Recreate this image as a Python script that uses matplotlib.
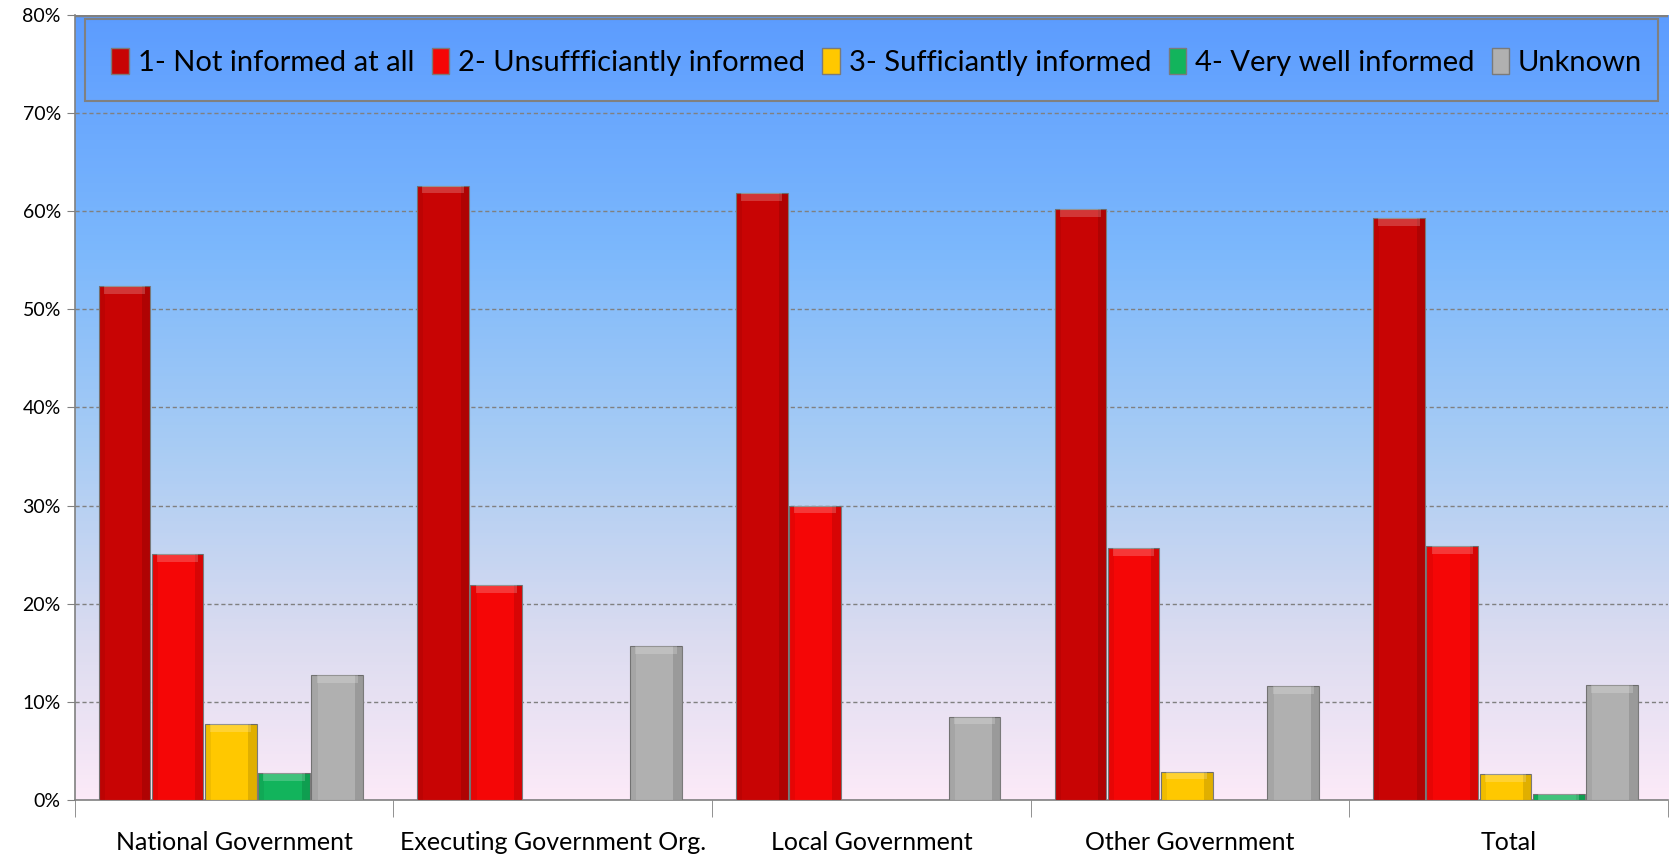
import numpy as np
import matplotlib.pyplot as plt
from matplotlib.colors import LinearSegmentedColormap
from matplotlib.patches import Patch, Rectangle

plt.rcParams['font.family'] = ['Lato', 'DejaVu Sans']

# data (percent)
categories = ['National Government', 'Executing Government Org.', 'Local Government',
              'Other Government', 'Total']
series_names = ['1- Not informed at all', '2- Unsuffficiantly informed',
                '3- Sufficiantly informed', '4- Very well informed', 'Unknown']
not_informed = [52.4, 62.6, 61.8, 60.2, 59.3]
unsufficient = [25.1, 21.9, 30.0, 25.7, 25.9]
sufficient = [7.7, 0.0, 0.0, 2.9, 2.6]
very_well = [2.7, 0.0, 0.0, 0.0, 0.6]
unknown = [12.7, 15.7, 8.5, 11.6, 11.7]
yticks = [0, 10, 20, 30, 40, 50, 60, 70, 80]

series = [not_informed, unsufficient, sufficient, very_well, unknown]
colors = ['#C80404', '#F50606', '#FFC800', '#12B45C', '#B0B0B0']

fig = plt.figure(figsize=(16.71, 8.59), dpi=100)
ax = fig.add_axes([0.0447, 0.0687, 0.9535, 0.914])

n = len(categories)
ax.set_xlim(-0.5, n - 0.5)
ax.set_ylim(0, 80)

# gradient background
bg = LinearSegmentedColormap.from_list('bg', [
    (0.0, '#FCEAF8'), (0.2, '#DCDCF0'), (0.45, '#A8CCF4'),
    (0.7, '#7CB8FC'), (1.0, '#5C9CFF')])
grad = np.linspace(0, 1, 256).reshape(-1, 1)
ax.imshow(grad, cmap=bg, aspect='auto', origin='lower',
          extent=(-0.5, n - 0.5, 0, 80), zorder=0)

# grid
for y in yticks[1:]:
    ax.axhline(y, color='#808080', linestyle=(0, (3, 2)), linewidth=1.0, zorder=1)
ax.axhline(80, color='#808080', linewidth=2.5, zorder=1)

w = 0.167
bw = w * 0.97
x = np.arange(n) - 0.01
for k, (vals, c) in enumerate(zip(series, colors)):
    offs = (k - 2) * w
    ax.bar(x + offs, vals, width=bw, color=c, edgecolor='#7a7a7a',
           linewidth=0.8, zorder=3)
    # shaded sides and lighter top, rough bevel look
    ax.bar(x + offs + bw * 0.42, vals, width=bw * 0.16, color='black',
           alpha=0.12, linewidth=0, zorder=4)
    ax.bar(x + offs - bw * 0.44, vals, width=bw * 0.12, color='black',
           alpha=0.06, linewidth=0, zorder=4)
    hl = [min(v, 0.8) for v in vals]
    ax.bar(x + offs, hl, width=bw * 0.8, bottom=[v - h for v, h in zip(vals, hl)],
           color='white', alpha=0.2, linewidth=0, zorder=4)

ax.set_yticks(yticks)
ax.set_yticklabels([f'{t}%' for t in yticks], fontsize=14)
ax.set_xticks(np.arange(n))
ax.set_xticklabels(categories, fontsize=18)
ax.tick_params(axis='x', length=0, pad=22)
ax.set_xticks(np.arange(-0.5, n), minor=True)
ax.tick_params(axis='x', which='minor', length=12, color='#808080')
ax.tick_params(axis='y', length=6, color='#808080', pad=4)

for s in ['top', 'right']:
    ax.spines[s].set_visible(False)
for s in ['left', 'bottom']:
    ax.spines[s].set_color('#808080')
    ax.spines[s].set_linewidth(1.2)

# legend box
ax.add_patch(Rectangle((0.0067, 0.890), 0.987, 0.1045, transform=ax.transAxes,
                       fill=False, edgecolor='#808080', linewidth=1.5, zorder=5))
handles = [Patch(facecolor=c, edgecolor='#7a7a7a') for c in colors]
leg = ax.legend(handles, series_names, loc='center', ncol=5,
                bbox_to_anchor=(0.5035, 0.9405), fontsize=21, frameon=False,
                handlelength=0.6, handleheight=1.0, handletextpad=0.3,
                columnspacing=0.6, borderpad=0, borderaxespad=0)
leg.set_zorder(6)

fig.savefig('out.png', dpi=100)
